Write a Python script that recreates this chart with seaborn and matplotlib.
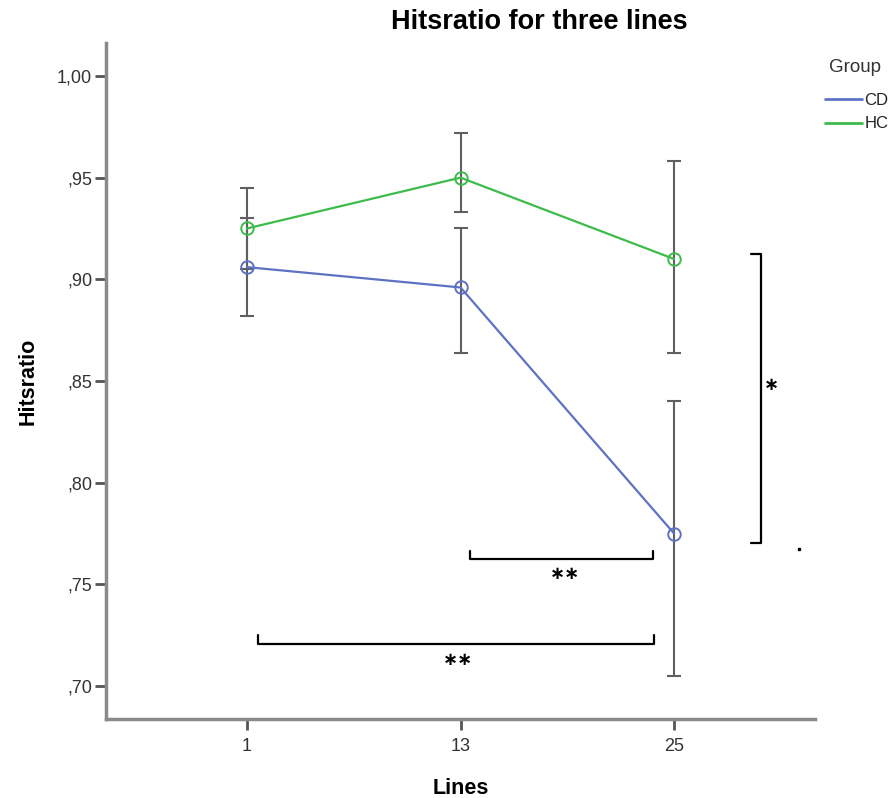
import matplotlib
matplotlib.use("Agg")
import matplotlib.pyplot as plt
from matplotlib.lines import Line2D
import seaborn as sns
import pandas as pd
import numpy as np

# ---- data ----
lines_cat = ["1", "13", "25"]
groups = ["CD", "HC"]
cd_mean = [0.906, 0.896, 0.775]
cd_low = [0.882, 0.864, 0.705]
cd_high = [0.930, 0.925, 0.840]
hc_mean = [0.925, 0.950, 0.910]
hc_low = [0.905, 0.933, 0.864]
hc_high = [0.945, 0.972, 0.958]
y_ticks = [0.70, 0.75, 0.80, 0.85, 0.90, 0.95, 1.00]
y_tick_labels = [",70", ",75", ",80", ",85", ",90", ",95", "1,00"]
colors = {"CD": "#5e72c4", "HC": "#3dbb4b"}

df = pd.DataFrame({
    "Lines": lines_cat * 2,
    "Hitsratio": cd_mean + hc_mean,
    "Group": ["CD"] * 3 + ["HC"] * 3,
})

sns.set_theme(style="white")
plt.rcParams["font.family"] = ["Liberation Sans", "DejaVu Sans"]

fig = plt.figure(figsize=(8.93, 7.98), dpi=100)
ax = fig.add_axes([0.1187, 0.0990, 0.794, 0.8471])

sns.pointplot(data=df, x="Lines", y="Hitsratio", hue="Group", order=lines_cat,
              hue_order=groups, palette=colors, markers="o", errorbar=None,
              linewidth=1.6, markersize=9, markeredgewidth=1.4, ax=ax, legend=False)
for ln in ax.lines:
    ln.set_markerfacecolor("none")

# error bars
pos = np.arange(len(lines_cat))
for mean, lo, hi in [(cd_mean, cd_low, cd_high), (hc_mean, hc_low, hc_high)]:
    mean = np.array(mean); lo = np.array(lo); hi = np.array(hi)
    ax.errorbar(pos, mean, yerr=[mean - lo, hi - mean], fmt="none",
                ecolor="#5f5f5f", elinewidth=1.5, capsize=5, capthick=1.5, zorder=1)

ax.set_xlim(-0.66, 2.66)
ax.set_ylim(0.6838, 1.0162)
ax.set_yticks(y_ticks)
ax.set_yticklabels(y_tick_labels)
ax.tick_params(axis="both", direction="out", length=8, width=2, color="#555555",
               labelsize=13, labelcolor="#333333", pad=2, left=True, bottom=True)
ax.tick_params(axis="x", pad=6)

for s in ["top", "right"]:
    ax.spines[s].set_visible(False)
for s in ["left", "bottom"]:
    ax.spines[s].set_color("#8a8a8a")
    ax.spines[s].set_linewidth(2.5)

ax.set_xlabel("Lines", fontsize=15.5, fontweight="bold", labelpad=16, color="black")
ax.set_ylabel("Hitsratio", fontsize=15.5, fontweight="bold", labelpad=13, color="black")
fig.text(539 / 893, 1 - 22 / 798, "Hitsratio for three lines", ha="center", va="center",
         fontsize=19.5, fontweight="bold", color="black")

# significance annotations (data coords)
k = "black"
star_font = ["DejaVu Sans"]
# vertical bracket on the right: HC vs CD at 25
vb_x, vb_tick, vb_y0, vb_y1 = 2.406, 2.36, 0.7704, 0.9125
ax.plot([vb_tick, vb_x, vb_x, vb_tick], [vb_y1, vb_y1, vb_y0, vb_y0], color=k, lw=1.6, clip_on=False)
ax.text(2.457, 0.848, "\u2217", fontsize=13, fontweight="bold", family=star_font,
        ha="center", va="center", color=k)
ax.plot([2.585], [0.7675], marker="s", markersize=1.5, color=k, clip_on=False)
# 13 vs 25
b1_x0, b1_x1, b1_y, b1_top = 1.044, 1.900, 0.7625, 0.7662
ax.plot([b1_x0, b1_x0, b1_x1, b1_x1], [b1_top, b1_y, b1_y, b1_top], color=k, lw=1.6)
ax.text(1.489, 0.7552, "\u2217\u2217", fontsize=13, fontweight="bold", family=star_font,
        ha="center", va="center", color=k)
# 1 vs 25
b2_x0, b2_x1, b2_y, b2_top = 0.052, 1.906, 0.7207, 0.7252
ax.plot([b2_x0, b2_x0, b2_x1, b2_x1], [b2_top, b2_y, b2_y, b2_top], color=k, lw=1.6)
ax.text(0.990, 0.7129, "\u2217\u2217", fontsize=13, fontweight="bold", family=star_font,
        ha="center", va="center", color=k)

# legend
fig.text(829 / 893, 1 - 67 / 798, "Group", ha="left", va="center", fontsize=13.5,
         color="#333333")
handles = [Line2D([0], [0], color=colors[g], lw=2) for g in groups]
leg = fig.legend(handles, groups, loc="upper left",
                 bbox_to_anchor=(825 / 893, 1 - 93 / 798), frameon=False,
                 fontsize=12, handlelength=2.2, handletextpad=0.15,
                 labelspacing=0.5, borderaxespad=0, borderpad=0)
for t in leg.get_texts():
    t.set_color("#222222")

fig.savefig("out.png", dpi=100)
